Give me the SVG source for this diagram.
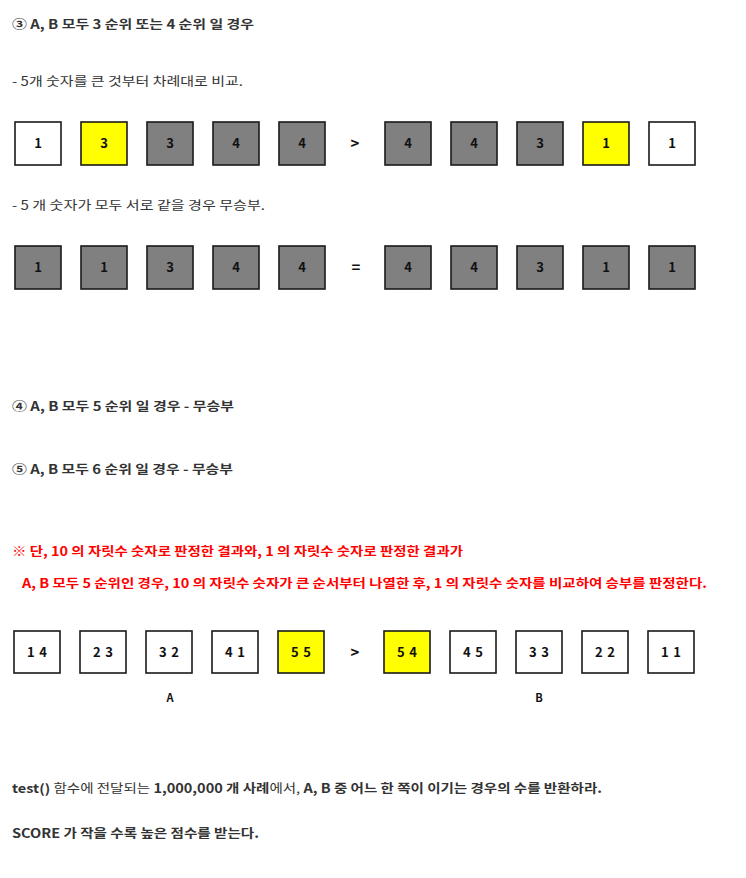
<svg xmlns="http://www.w3.org/2000/svg" width="746" height="878" viewBox="0 0 746 878">
<style>
text{font-family:"Noto Sans CJK KR","Noto Sans",sans-serif;}
.t{font-size:12.5px;fill:#333;}
.b{font-weight:bold;}
.n{font-weight:normal;}
.red{font-size:12.5px;fill:#ff0000;font-weight:bold;}
.box{stroke:#1a1a1a;stroke-width:1.6;}
.w{fill:#ffffff;}
.y{fill:#ffff00;}
.g{fill:#808080;}
.lbl{font-size:13px;font-weight:bold;fill:#111;text-anchor:middle;}
.op{font-size:15px;font-weight:bold;fill:#111;text-anchor:middle;}
</style>
<rect width="746" height="878" fill="#ffffff"/>

<text class="t b" x="12" y="29" textLength="242" lengthAdjust="spacingAndGlyphs">③ A, B 모두 3 순위 또는 4 순위 일 경우</text>
<text class="t n" x="12" y="86" textLength="231" lengthAdjust="spacingAndGlyphs">- 5개 숫자를 큰 것부터 차례대로 비교.</text>

<g id="row1">
<g id="r1a1"><rect class="box w" x="15" y="122" width="46" height="43"/><text class="lbl" x="38" y="148">1</text></g>
<g id="r1a2"><rect class="box y" x="81" y="122" width="46" height="43"/><text class="lbl" x="104" y="148">3</text></g>
<g id="r1a3"><rect class="box g" x="147" y="122" width="46" height="43"/><text class="lbl" x="170" y="148">3</text></g>
<g id="r1a4"><rect class="box g" x="213" y="122" width="46" height="43"/><text class="lbl" x="236" y="148">4</text></g>
<g id="r1a5"><rect class="box g" x="279" y="122" width="46" height="43"/><text class="lbl" x="302" y="148">4</text></g>
<text class="op" x="355" y="149">&gt;</text>
<g id="r1b1"><rect class="box g" x="385" y="122" width="46" height="43"/><text class="lbl" x="408" y="148">4</text></g>
<g id="r1b2"><rect class="box g" x="451" y="122" width="46" height="43"/><text class="lbl" x="474" y="148">4</text></g>
<g id="r1b3"><rect class="box g" x="517" y="122" width="46" height="43"/><text class="lbl" x="540" y="148">3</text></g>
<g id="r1b4"><rect class="box y" x="583" y="122" width="46" height="43"/><text class="lbl" x="606" y="148">1</text></g>
<g id="r1b5"><rect class="box w" x="649" y="122" width="46" height="43"/><text class="lbl" x="672" y="148">1</text></g>
</g>

<text class="t n" x="12" y="210" textLength="253" lengthAdjust="spacingAndGlyphs">- 5 개 숫자가 모두 서로 같을 경우 무승부.</text>

<g id="row2">
<g id="r2a1"><rect class="box g" x="15" y="246" width="46" height="43"/><text class="lbl" x="38" y="272">1</text></g>
<g id="r2a2"><rect class="box g" x="81" y="246" width="46" height="43"/><text class="lbl" x="104" y="272">1</text></g>
<g id="r2a3"><rect class="box g" x="147" y="246" width="46" height="43"/><text class="lbl" x="170" y="272">3</text></g>
<g id="r2a4"><rect class="box g" x="213" y="246" width="46" height="43"/><text class="lbl" x="236" y="272">4</text></g>
<g id="r2a5"><rect class="box g" x="279" y="246" width="46" height="43"/><text class="lbl" x="302" y="272">4</text></g>
<text class="op" x="356" y="273">=</text>
<g id="r2b1"><rect class="box g" x="385" y="246" width="46" height="43"/><text class="lbl" x="408" y="272">4</text></g>
<g id="r2b2"><rect class="box g" x="451" y="246" width="46" height="43"/><text class="lbl" x="474" y="272">4</text></g>
<g id="r2b3"><rect class="box g" x="517" y="246" width="46" height="43"/><text class="lbl" x="540" y="272">3</text></g>
<g id="r2b4"><rect class="box g" x="583" y="246" width="46" height="43"/><text class="lbl" x="606" y="272">1</text></g>
<g id="r2b5"><rect class="box g" x="649" y="246" width="46" height="43"/><text class="lbl" x="672" y="272">1</text></g>
</g>

<text class="t b" x="12" y="411" textLength="222" lengthAdjust="spacingAndGlyphs">④ A, B 모두 5 순위 일 경우 - 무승부</text>
<text class="t b" x="12" y="474" textLength="221" lengthAdjust="spacingAndGlyphs">⑤ A, B 모두 6 순위 일 경우 - 무승부</text>

<text class="red" x="12" y="556" textLength="451" lengthAdjust="spacingAndGlyphs">※ 단, 10 의 자릿수 숫자로 판정한 결과와, 1 의 자릿수 숫자로 판정한 결과가</text>
<text class="red" x="22" y="588" textLength="685" lengthAdjust="spacingAndGlyphs">A, B 모두 5 순위인 경우, 10 의 자릿수 숫자가 큰 순서부터 나열한 후, 1 의 자릿수 숫자를 비교하여 승부를 판정한다.</text>

<g id="row3">
<g id="r3a1"><rect class="box w" x="14" y="631" width="46" height="42"/><text class="lbl" x="27" y="657" textLength="20" lengthAdjust="spacing" style="text-anchor:start">1 4</text></g>
<g id="r3a2"><rect class="box w" x="80" y="631" width="46" height="42"/><text class="lbl" x="93" y="657" textLength="20" lengthAdjust="spacing" style="text-anchor:start">2 3</text></g>
<g id="r3a3"><rect class="box w" x="146" y="631" width="46" height="42"/><text class="lbl" x="159" y="657" textLength="20" lengthAdjust="spacing" style="text-anchor:start">3 2</text></g>
<g id="r3a4"><rect class="box w" x="212" y="631" width="46" height="42"/><text class="lbl" x="225" y="657" textLength="20" lengthAdjust="spacing" style="text-anchor:start">4 1</text></g>
<g id="r3a5"><rect class="box y" x="278" y="631" width="46" height="42"/><text class="lbl" x="291" y="657" textLength="20" lengthAdjust="spacing" style="text-anchor:start">5 5</text></g>
<text class="op" x="355" y="658">&gt;</text>
<g id="r3b1"><rect class="box y" x="384" y="631" width="46" height="42"/><text class="lbl" x="397" y="657" textLength="20" lengthAdjust="spacing" style="text-anchor:start">5 4</text></g>
<g id="r3b2"><rect class="box w" x="450" y="631" width="46" height="42"/><text class="lbl" x="463" y="657" textLength="20" lengthAdjust="spacing" style="text-anchor:start">4 5</text></g>
<g id="r3b3"><rect class="box w" x="516" y="631" width="46" height="42"/><text class="lbl" x="529" y="657" textLength="20" lengthAdjust="spacing" style="text-anchor:start">3 3</text></g>
<g id="r3b4"><rect class="box w" x="582" y="631" width="46" height="42"/><text class="lbl" x="595" y="657" textLength="20" lengthAdjust="spacing" style="text-anchor:start">2 2</text></g>
<g id="r3b5"><rect class="box w" x="648" y="631" width="46" height="42"/><text class="lbl" x="661" y="657" textLength="20" lengthAdjust="spacing" style="text-anchor:start">1 1</text></g>
<text class="lbl" x="170" y="702" style="font-size:11px">A</text>
<text class="lbl" x="539" y="702" style="font-size:11px">B</text>
</g>

<text class="t" x="12" y="793" textLength="590" lengthAdjust="spacingAndGlyphs"><tspan class="b">test()</tspan><tspan class="n"> 함수에 전달되는 </tspan><tspan class="b">1,000,000 개 사례</tspan><tspan class="n">에서, </tspan><tspan class="b">A, B 중 어느 한 쪽이 이기는 경우의 수를 반환하라.</tspan></text>
<text class="t b" x="12" y="838" textLength="247" lengthAdjust="spacingAndGlyphs">SCORE 가 작을 수록 높은 점수를 받는다.</text>
</svg>
